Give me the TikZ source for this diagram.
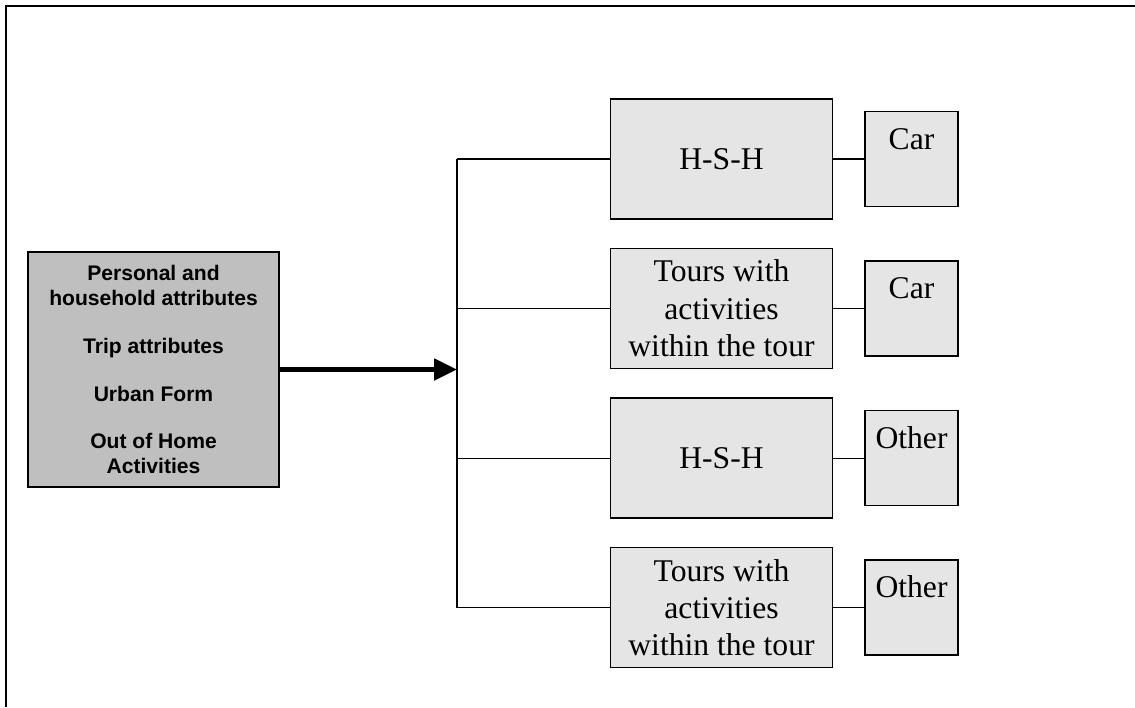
\documentclass[tikz,border=0pt]{standalone}
\usepackage{fontspec}
\setmainfont{Liberation Serif}
\setsansfont{Liberation Sans}
\usetikzlibrary{arrows.meta,positioning}

\begin{document}
\begin{tikzpicture}[x=0.02cm, y=-0.02cm, node distance=0.56cm and 0.62cm]
\tikzset{tour/.style={draw, line width=0.9pt, fill=black!10, align=center, minimum width=4.44cm, minimum height=2.4cm, font=\fontsize{18}{21.3}\selectfont}}
\tikzset{mode/.style={draw, line width=0.9pt, fill=black!10, minimum width=1.86cm, minimum height=1.9cm, text height=0.45cm, text depth=0.85cm, font=\fontsize{18}{21.3}\selectfont}}
\tikzset{attr/.style={draw, line width=0.9pt, fill=black!25, align=center, minimum width=5.02cm, minimum height=4.7cm, font=\sffamily\bfseries\fontsize{12}{14.2}\selectfont}}
\tikzset{link/.style={line width=0.6pt}}
\useasboundingbox (0,0) rectangle (1135,707);
\draw[line width=1.1pt] (6,707) -- (6,6) -- (1135,6);
\node[attr] (attr) at (153.5,369.5) {Personal and\\household attributes\\[0.46cm]Trip attributes\\[0.46cm]Urban Form\\[0.46cm]Out of Home\\Activities};
\node[tour] (t1) at (721.5,159) {H-S-H};
\node[tour, below=of t1] (t2) {Tours with\\activities\\within the tour};
\node[tour, below=of t2] (t3) {H-S-H};
\node[tour, below=of t3] (t4) {Tours with\\activities\\within the tour};
\node[mode, right=of t1] (m1) {Car};
\node[mode, right=of t2] (m2) {Car};
\node[mode, right=of t3] (m3) {Other};
\node[mode, right=of t4] (m4) {Other};
\coordinate (trunk) at (457,169);
\draw[link] (t1.west -| trunk) -- (t4.west -| trunk);
\draw[link] (t1) -- (t1.west -| trunk);
\draw[link] (t2) -- (t2.west -| trunk);
\draw[link] (t3) -- (t3.west -| trunk);
\draw[link] (t4) -- (t4.west -| trunk);
\draw[link] (t1) -- (m1);
\draw[link] (t2) -- (m2);
\draw[link] (t3) -- (m3);
\draw[link] (t4) -- (m4);
\draw[line width=2.8pt, -{Triangle[length=0.46cm, width=0.42cm]}] (attr) -- (attr.east -| trunk);
\end{tikzpicture}
\end{document}
